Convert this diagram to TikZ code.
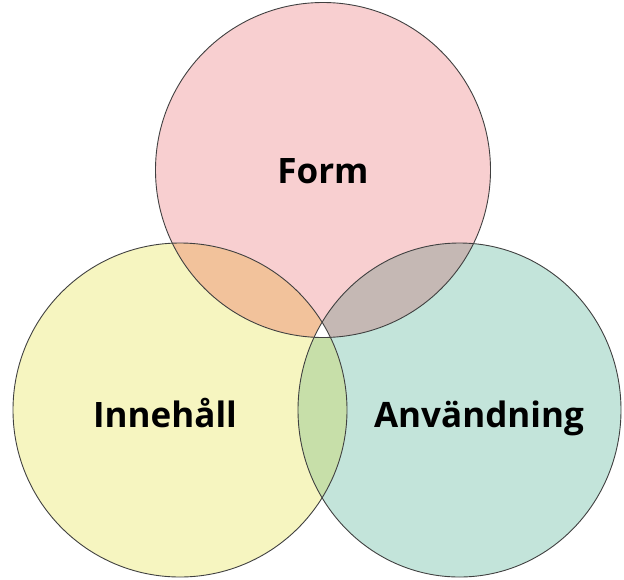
\documentclass[tikz,border=0pt]{standalone}
\usepackage{fontspec}
\setmainfont{Open Sans}
\definecolor{cpink}{HTML}{F8CFD0}
\definecolor{cyellow}{HTML}{F6F5C0}
\definecolor{cteal}{HTML}{C3E4DA}
\definecolor{corange}{HTML}{F2C29B}
\definecolor{cgray}{HTML}{C5B8B4}
\definecolor{cgreen}{HTML}{C7DFA9}
\definecolor{cline}{HTML}{404040}
\begin{document}
\begin{tikzpicture}[x=1pt,y=-1pt,
  lbl/.style={font=\fontsize{35}{40}\selectfont\bfseries, anchor=base, inner sep=0pt},
  ring/.style={draw=cline, line width=0.9pt}]
\useasboundingbox (0,0) rectangle (624,579);
\def\shT{(323,170) circle (167.5)}
\def\shL{(180,410) circle (167)}
\def\shR{(459.5,410) ellipse (161.5 and 167)}
\fill[cpink] \shT;
\fill[cyellow] \shL;
\fill[cteal] \shR;
\begin{scope}
  \clip \shT;
  \fill[corange] \shL;
  \fill[cgray] \shR;
  \clip \shL;
  \fill[white] \shR;
\end{scope}
\begin{scope}
  \clip \shL;
  \clip \shR;
  \fill[even odd rule, cgreen] (0,0) rectangle (624,579) \shT;
\end{scope}
\draw[ring] \shT;
\draw[ring] \shL;
\draw[ring] \shR;
\node[lbl] (form) at (323,183) {Form};
\node[lbl] (inne) at (165,427) {Innehåll};
\node[lbl] (anv) at (479,427) {Användning};
\end{tikzpicture}
\end{document}
